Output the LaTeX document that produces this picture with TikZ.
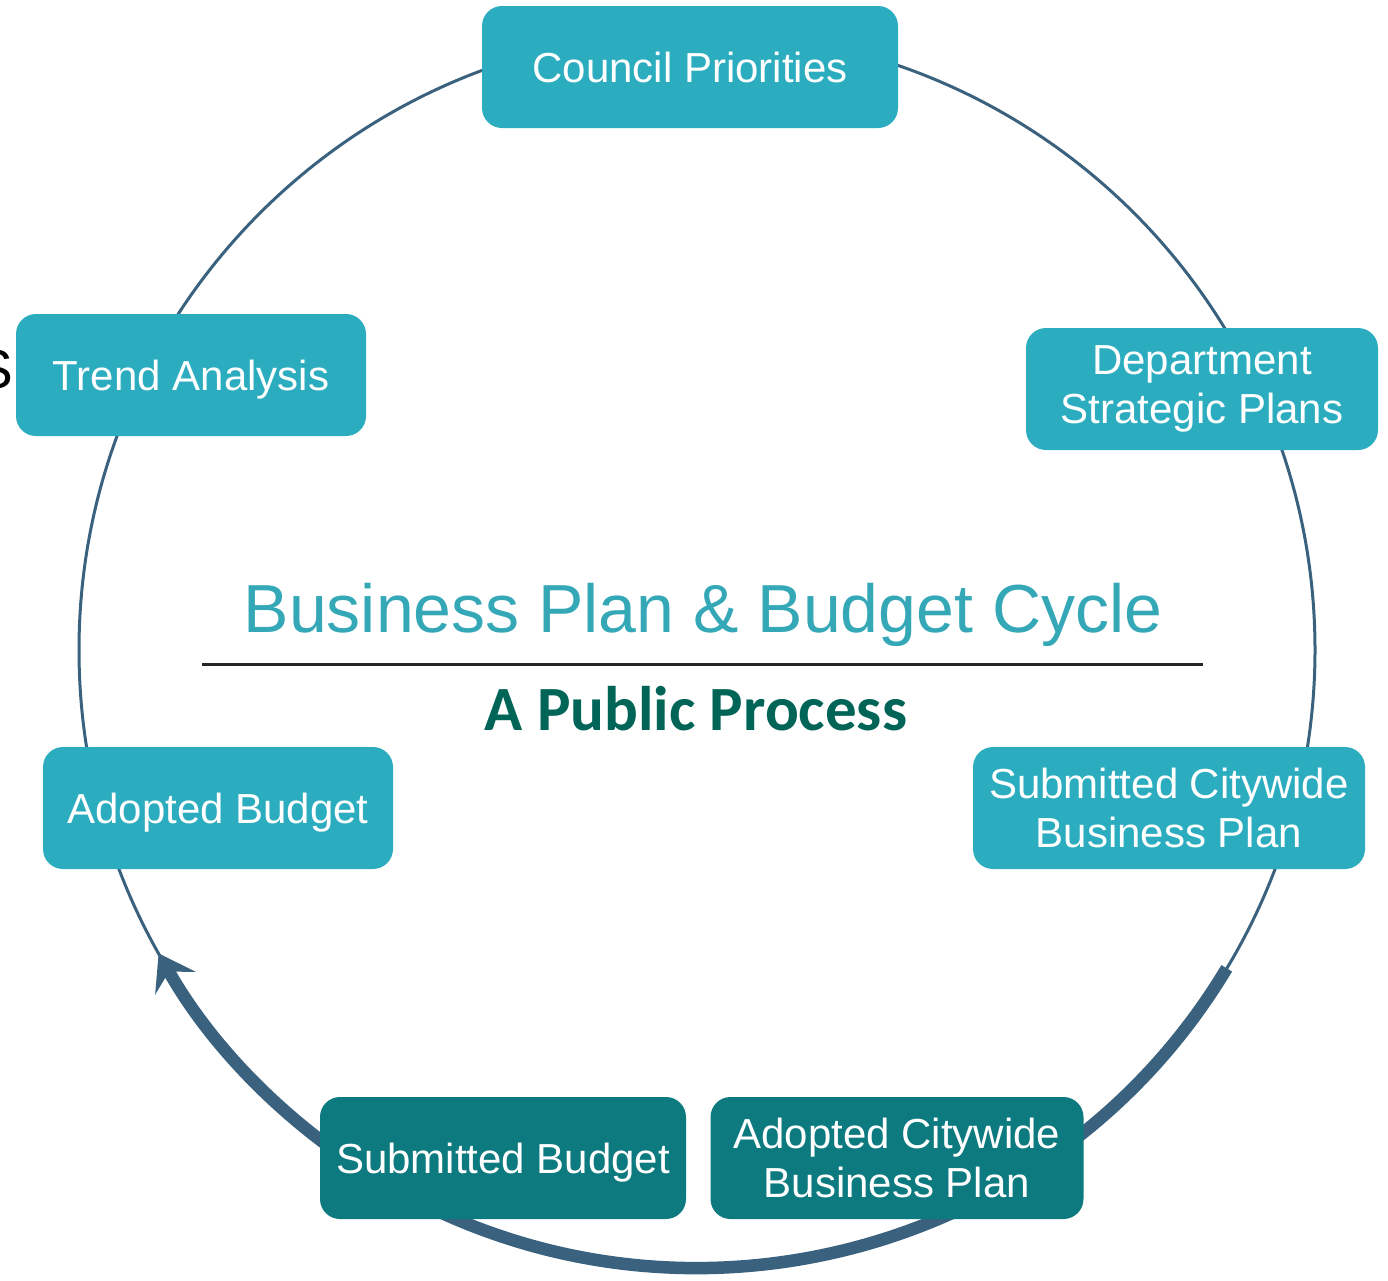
\documentclass[tikz,border=0pt]{standalone}
\usepackage{fontspec}
\setmainfont{Liberation Sans}
\newfontfamily\calibrifont{Carlito}
\usetikzlibrary{arrows.meta}
\definecolor{stagecyan}{RGB}{43,173,191}
\definecolor{stageteal}{RGB}{13,122,128}
\definecolor{ringblue}{RGB}{58,98,127}
\definecolor{titlecyan}{RGB}{53,168,184}
\definecolor{processgreen}{RGB}{0,100,87}

\begin{document}
\begin{tikzpicture}[x=1pt, y=-1pt, font=\fontsize{42}{49}\selectfont]
%% one unit is one pixel of the reference, y grows downwards
%% the ring is drawn first so that the stage boxes cover it
\tikzstyle{ring}=[draw=ringblue,line width=3pt]
\tikzstyle{cycleArc}=[draw=ringblue,line width=12.5pt,-{Stealth[length=34pt,width=46pt,inset=13pt]}]
\tikzstyle{stage}=[rectangle,rounded corners=20pt,fill=stagecyan,text=white,align=center,inner sep=0pt,minimum height=122pt]
\tikzstyle{oneline}=[text height=31pt,text depth=0pt]
\tikzstyle{finalstage}=[stage,fill=stageteal]
\useasboundingbox (0,0) rectangle (1388,1280);
%% TikZ-figure elements %%
\coordinate (hub) at (697,650);
\draw[ring] (hub) circle[radius=618];
%% thick part of the ring with the arrow head
\coordinate (arc_start) at ([shift={(31:618)}]hub);
\draw[cycleArc] (arc_start) arc[start angle=31,end angle=150.6,radius=618];
%% stages of the cycle
\node[stage,oneline,minimum width=416pt] at (690,67) (Council_Priorities) {Council Priorities};
\node[stage,minimum width=352pt] at (1202,389) (Department_Plans) {Department\\Strategic Plans};
\node[stage,minimum width=392pt] at (1169,808) (Submitted_Citywide) {Submitted Citywide\\Business Plan};
\node[finalstage,minimum width=373pt] at (897,1158) (Adopted_Citywide) {Adopted Citywide\\Business Plan};
\node[finalstage,oneline,minimum width=366pt] at (503,1158) (Submitted_Budget) {Submitted Budget};
\node[stage,oneline,minimum width=350pt] at (218,808) (Adopted_Budget) {Adopted Budget};
\node[stage,oneline,minimum width=350pt] at (191,375) (Trend_Analysis) {Trend Analysis};
%% cut off letter at the left edge
\node[anchor=base east,inner sep=0pt,font=\fontsize{55}{60}\selectfont] at (13,388) (cut_letter) {S};
%% title in the middle of the ring
\node[anchor=base,inner sep=0pt,text=titlecyan,font=\fontsize{68}{72}\selectfont] at (703,632) (cycle_title) {Business Plan \& Budget Cycle};
\coordinate (rule_west) at (202,664);
\coordinate (rule_east) at (1203,664);
\draw[line width=3pt,black!85] (rule_west) -- (rule_east);
\node[anchor=base,inner sep=0pt,text=processgreen,font=\calibrifont\bfseries\fontsize{63}{66}\selectfont] at (696,730) (cycle_subtitle) {A Public Process};
\end{tikzpicture}
\end{document}
